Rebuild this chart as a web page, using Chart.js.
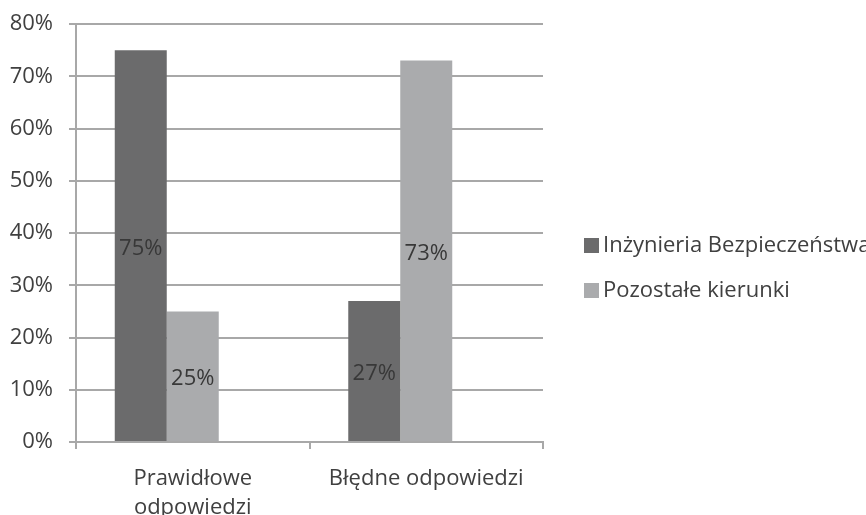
<!DOCTYPE html>
<html>
<head>
<meta charset="utf-8">
<style>
  html, body { margin: 0; padding: 0; background: #fff; overflow: hidden; }
  canvas { display: block; }
</style>
<script src="https://cdn.jsdelivr.net/npm/chart.js"></script>
</head>
<body>
<canvas id="wykres" width="866" height="515"></canvas>
<script>
  // Dane wykresu (w procentach)
  var kategorie = [['Prawidłowe', 'odpowiedzi'], 'Błędne odpowiedzi'];
  var inzynieria = [75, 27];
  var pozostale = [25, 73];
  var pusta = [null, null]; // trzecia, pusta seria jak w arkuszu
  var etykietyOsiY = ['0%', '10%', '20%', '30%', '40%', '50%', '60%', '70%', '80%'];

  var KOLOR_CIEMNY = '#6b6b6c';
  var KOLOR_JASNY = '#aaabad';
  var KOLOR_SIATKI = '#a8a8a8';
  var KOLOR_TEKSTU = '#404040';
  var CZCIONKA = '"Open Sans", sans-serif';

  // Etykiety wartości w środku słupków
  var etykietyWartosci = {
    id: 'etykietyWartosci',
    afterDatasetsDraw: function(chart) {
      var ctx = chart.ctx;
      ctx.save();
      ctx.font = '22px ' + CZCIONKA;
      ctx.fillStyle = '#383838';
      ctx.textAlign = 'center';
      ctx.textBaseline = 'middle';
      chart.data.datasets.forEach(function(ds, i) {
        var meta = chart.getDatasetMeta(i);
        meta.data.forEach(function(el, j) {
          var v = ds.data[j];
          if (v === null || v === undefined) return;
          ctx.fillText(v + '%', el.x, (el.y + el.base) / 2 + 3);
        });
      });
      ctx.restore();
    }
  };

  // Legenda po prawej stronie
  var legenda = {
    id: 'legenda',
    afterDraw: function(chart) {
      var ctx = chart.ctx;
      ctx.save();
      ctx.font = '22px ' + CZCIONKA;
      ctx.textBaseline = 'middle';
      var y = 245;
      chart.data.datasets.forEach(function(ds) {
        if (!ds.label) return;
        ctx.fillStyle = ds.backgroundColor;
        ctx.fillRect(584, y - 7, 15, 15);
        ctx.fillStyle = KOLOR_TEKSTU;
        ctx.fillText(ds.label, 603, y + 1);
        y += 45;
      });
      ctx.restore();
    }
  };

  new Chart(document.getElementById('wykres').getContext('2d'), {
    type: 'bar',
    data: {
      labels: kategorie,
      datasets: [
        { label: 'Inżynieria Bezpieczeństwa', data: inzynieria, backgroundColor: KOLOR_CIEMNY },
        { label: 'Pozostałe kierunki', data: pozostale, backgroundColor: KOLOR_JASNY },
        { label: '', data: pusta, backgroundColor: 'rgba(0,0,0,0)' }
      ]
    },
    options: {
      responsive: false,
      animation: false,
      layout: { padding: { top: 24, right: 323, bottom: 0, left: 0 } },
      datasets: { bar: { categoryPercentage: 0.668, barPercentage: 1 } },
      plugins: {
        legend: { display: false },
        tooltip: { enabled: false }
      },
      scales: {
        y: {
          min: 0,
          max: 80,
          afterFit: function(scale) {
            scale.width = 76;
            scale.paddingTop = 0;
            scale.paddingBottom = 0;
          },
          afterBuildTicks: function(scale) {
            scale.ticks = etykietyOsiY.map(function(t, i) { return { value: i * 10 }; });
          },
          ticks: {
            padding: 16,
            color: KOLOR_TEKSTU,
            font: { family: CZCIONKA, size: 22 },
            callback: function(v, i) { return etykietyOsiY[i]; }
          },
          grid: { color: KOLOR_SIATKI, lineWidth: 2, tickLength: 7 },
          border: { color: KOLOR_SIATKI, width: 2 }
        },
        x: {
          afterFit: function(scale) {
            scale.height = 73;
            scale.paddingLeft = 0;
            scale.paddingRight = 0;
          },
          ticks: {
            padding: 15,
            color: KOLOR_TEKSTU,
            font: { family: CZCIONKA, size: 22, lineHeight: 1.33 }
          },
          grid: { offset: true, drawOnChartArea: false, color: KOLOR_SIATKI, lineWidth: 2, tickLength: 7 },
          border: { color: KOLOR_SIATKI, width: 2 }
        }
      }
    },
    plugins: [etykietyWartosci, legenda]
  });
</script>
</body>
</html>
